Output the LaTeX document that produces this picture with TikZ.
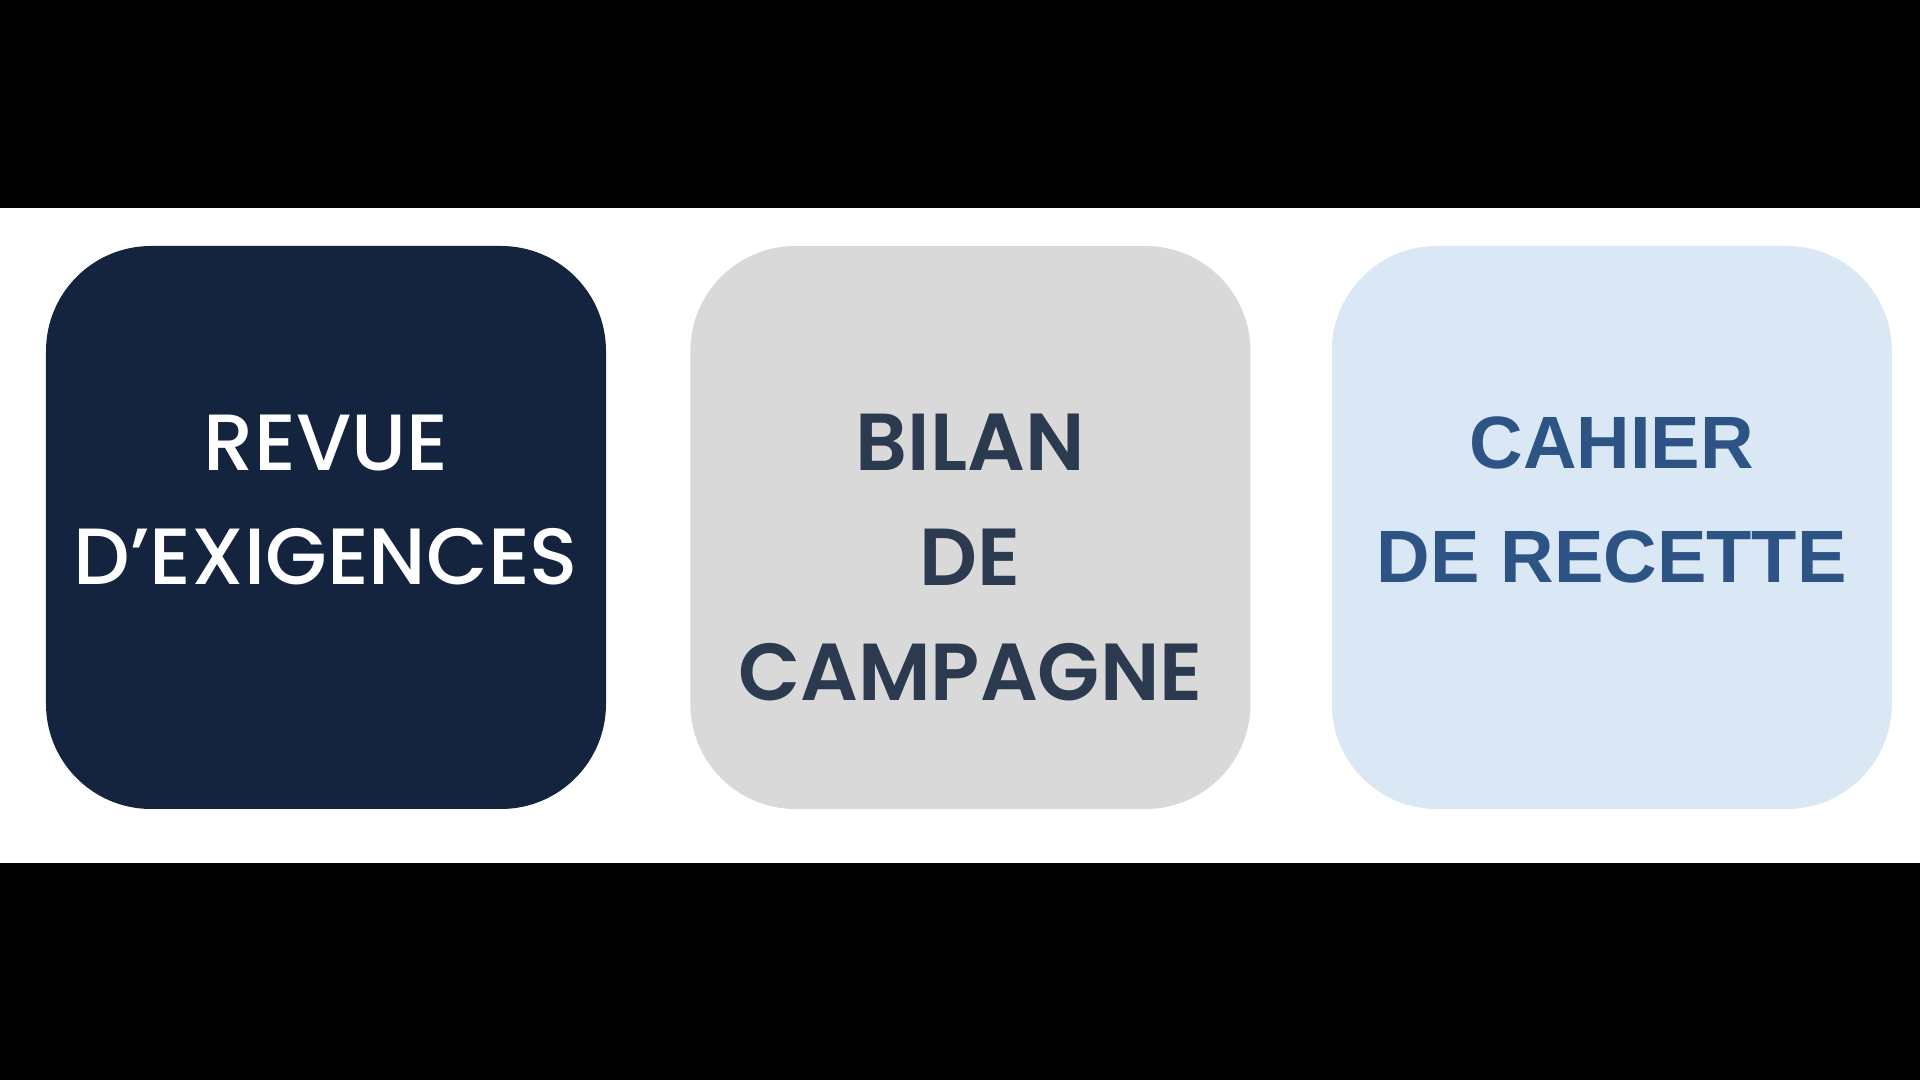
\documentclass[tikz,border=0pt]{standalone}
\usepackage{fontspec}
\setmainfont{Poppins}[UprightFont=* Medium, BoldFont=* SemiBold]
\newfontfamily\arialfont{Liberation Sans}
\usetikzlibrary{positioning}
\definecolor{navy}{HTML}{14243F}
\definecolor{greybox}{HTML}{D9D9D9}
\definecolor{bluebox}{HTML}{DAE8F5}
\definecolor{slate}{HTML}{2B3A4E}
\definecolor{steel}{HTML}{2E5486}
\tikzset{doc/.style={rectangle,rounded corners=1.05cm,minimum width=5.6cm,minimum height=5.63cm,inner sep=0pt},
		docText/.style={align=center,inner sep=0pt,font=\fontsize{22.7}{32.7}\selectfont},
		node distance=0.8cm}

\begin{document}
\begin{tikzpicture}
				\useasboundingbox (0,0) rectangle (19.2,10.8);
				\fill[black] (0,0) rectangle (19.2,10.8);
				\fill[white] (0,2.17) rectangle (19.2,8.72);
				\node [doc, fill=navy] (rev) at (3.26,5.525) {};
				\node [doc, fill=greybox] (bil) [right=0.83cm of rev] {};
				\node [doc, fill=bluebox] (cah) [right=of bil] {};
				%texts
				\node [docText, text=white] (revT) at ([yshift=0.275cm]rev.center) {REVUE\\D’EXIGENCES};
				\node [docText, text=slate, font=\fontsize{23}{32.7}\selectfont\bfseries] (bilT) at ([yshift=-0.3cm]bil.center) {BILAN\\DE\\CAMPAGNE};
				\node [docText, text=steel, font=\fontsize{21.1}{32.7}\arialfont\bfseries] (cahT) at ([yshift=0.275cm]cah.center) {CAHIER\\DE RECETTE};
			\end{tikzpicture}
\end{document}
